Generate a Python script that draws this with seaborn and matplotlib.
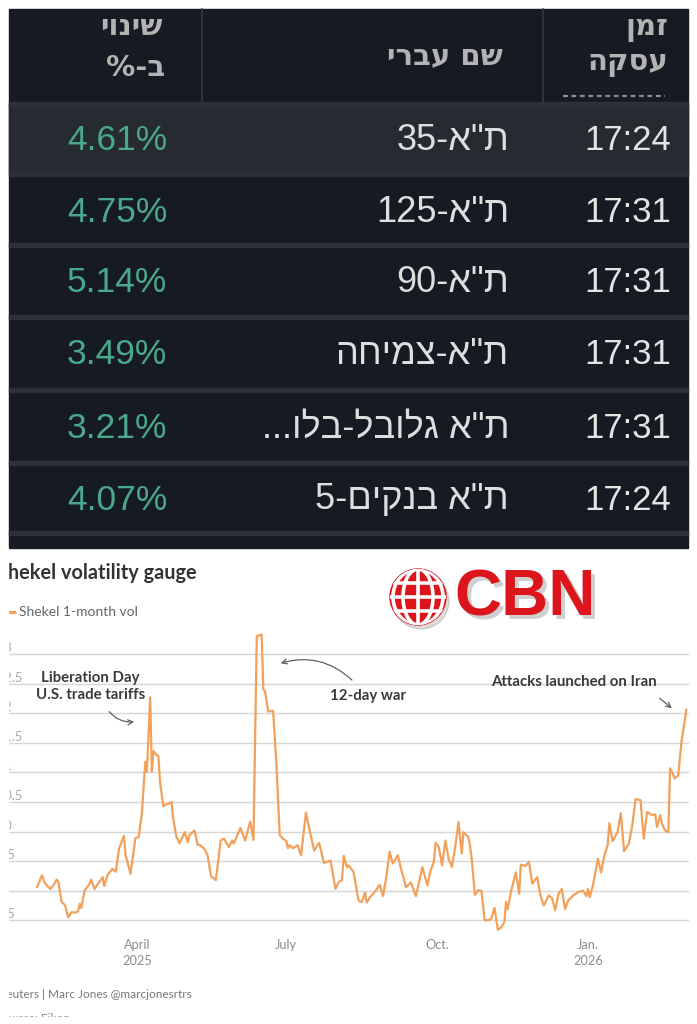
import re
import numpy as np
import pandas as pd
import matplotlib
matplotlib.use("Agg")
import matplotlib.pyplot as plt
import seaborn as sns
from matplotlib.patches import Rectangle, Circle, Ellipse
from matplotlib import font_manager as fm

# ---------------- data ----------------
table_header_time = ["זמן", "עסקה"]
table_header_name = "שם עברי"
table_header_change = ["שינוי", "ב-%"]
trade_times = ["17:24", "17:31", "17:31", "17:31", "17:31", "17:24"]
index_names = ['ת"א-35', 'ת"א-125', 'ת"א-90', 'ת"א-צמיחה', 'ת"א גלובל-בלו...', 'ת"א בנקים-5']
pct_changes = ["4.61%", "4.75%", "5.14%", "3.49%", "3.21%", "4.07%"]

chart_title = "Shekel volatility gauge"
series_name = "Shekel 1-month vol"
dates = [
    "2025-01-30", "2025-02-02", "2025-02-04", "2025-02-07", "2025-02-09", "2025-02-11", "2025-02-12",
    "2025-02-14", "2025-02-16", "2025-02-18", "2025-02-20", "2025-02-22", "2025-02-24", "2025-02-25",
    "2025-02-26", "2025-02-28", "2025-03-03", "2025-03-04", "2025-03-06", "2025-03-09", "2025-03-11",
    "2025-03-12", "2025-03-14", "2025-03-17", "2025-03-19", "2025-03-21", "2025-03-24", "2025-03-25",
    "2025-03-28", "2025-03-29", "2025-03-31", "2025-04-02", "2025-04-04", "2025-04-06", "2025-04-07",
    "2025-04-09", "2025-04-10", "2025-04-11", "2025-04-12", "2025-04-14", "2025-04-15", "2025-04-17",
    "2025-04-18", "2025-04-20", "2025-04-22", "2025-04-23", "2025-04-25", "2025-04-27", "2025-04-30",
    "2025-05-02", "2025-05-03", "2025-05-06", "2025-05-08", "2025-05-09", "2025-05-12", "2025-05-14",
    "2025-05-16", "2025-05-19", "2025-05-22", "2025-05-24", "2025-05-27", "2025-05-29", "2025-05-30",
    "2025-06-03", "2025-06-06", "2025-06-09", "2025-06-11", "2025-06-13", "2025-06-16", "2025-06-17",
    "2025-06-18", "2025-06-20", "2025-06-23", "2025-06-25", "2025-06-27", "2025-06-29", "2025-07-01",
    "2025-07-02", "2025-07-03", "2025-07-05", "2025-07-08", "2025-07-10", "2025-07-13", "2025-07-15",
    "2025-07-18", "2025-07-21", "2025-07-24", "2025-07-28", "2025-07-31", "2025-08-02", "2025-08-04",
    "2025-08-05", "2025-08-07", "2025-08-08", "2025-08-11", "2025-08-14", "2025-08-16", "2025-08-18",
    "2025-08-19", "2025-08-21", "2025-08-24", "2025-08-27", "2025-08-29", "2025-08-31", "2025-09-02",
    "2025-09-04", "2025-09-07", "2025-09-09", "2025-09-12", "2025-09-15", "2025-09-18", "2025-09-20",
    "2025-09-22", "2025-09-25", "2025-09-27", "2025-09-29", "2025-09-30", "2025-10-02", "2025-10-04",
    "2025-10-06", "2025-10-08", "2025-10-10", "2025-10-12", "2025-10-14", "2025-10-16", "2025-10-17",
    "2025-10-20", "2025-10-21", "2025-10-22", "2025-10-24", "2025-10-26", "2025-10-28", "2025-10-30",
    "2025-11-02", "2025-11-03", "2025-11-05", "2025-11-07", "2025-11-09", "2025-11-11", "2025-11-12",
    "2025-11-13", "2025-11-15", "2025-11-18", "2025-11-20", "2025-11-21", "2025-11-24", "2025-11-26",
    "2025-11-28", "2025-12-01", "2025-12-03", "2025-12-05", "2025-12-08", "2025-12-10", "2025-12-12",
    "2025-12-14", "2025-12-16", "2025-12-18", "2025-12-20", "2025-12-23", "2025-12-26", "2025-12-29",
    "2025-12-31", "2026-01-01", "2026-01-02", "2026-01-04", "2026-01-07", "2026-01-09", "2026-01-11",
    "2026-01-13", "2026-01-14", "2026-01-16", "2026-01-19", "2026-01-21", "2026-01-23", "2026-01-26",
    "2026-01-28", "2026-01-30", "2026-02-02", "2026-02-04", "2026-02-06", "2026-02-09", "2026-02-11",
    "2026-02-12", "2026-02-14", "2026-02-15", "2026-02-17", "2026-02-19", "2026-02-20", "2026-02-23",
    "2026-02-25", "2026-02-27", "2026-03-02",
]
vols = [
    9.06, 9.26, 9.12, 9.03, 9.09, 9.19, 9.15,
    8.81, 8.76, 8.55, 8.64, 8.63, 8.65, 8.78,
    8.71, 9.00, 9.12, 9.19, 9.03, 9.15, 9.23,
    9.08, 9.27, 9.37, 9.32, 9.71, 9.93, 9.60,
    9.29, 9.49, 9.89, 9.91, 10.33, 11.18, 11.01,
    12.27, 11.01, 11.36, 11.32, 11.27, 10.84, 10.43,
    10.45, 10.47, 10.50, 10.22, 9.91, 9.80, 9.99,
    9.82, 9.94, 10.02, 9.77, 9.78, 9.71, 9.60,
    9.25, 9.18, 9.85, 9.88, 9.74, 9.85, 9.80,
    10.06, 9.85, 10.17, 9.86, 13.30, 13.33, 12.40,
    12.37, 12.03, 12.04, 11.12, 9.94, 9.88, 9.84,
    9.72, 9.77, 9.72, 9.77, 9.60, 10.32, 10.05,
    9.68, 9.81, 9.47, 9.51, 9.03, 9.15, 9.18,
    9.59, 9.40, 9.43, 9.32, 8.84, 8.81, 8.97,
    8.80, 8.89, 8.98, 9.10, 8.91, 9.23, 9.66,
    9.46, 9.60, 9.37, 9.06, 9.14, 8.91, 9.15,
    9.40, 9.09, 9.34, 9.49, 9.81, 9.74, 9.43,
    9.85, 9.54, 9.40, 9.74, 10.16, 9.63, 9.99,
    9.91, 9.77, 9.56, 8.93, 9.01, 9.00, 8.50,
    8.51, 8.53, 8.71, 8.34, 8.38, 8.47, 8.81,
    8.69, 8.98, 9.31, 8.95, 9.44, 9.42, 9.49,
    9.12, 9.23, 8.92, 8.75, 8.92, 8.88, 8.67,
    8.95, 9.03, 8.69, 8.84, 8.92, 8.98, 9.00,
    8.91, 9.03, 8.89, 9.09, 9.54, 9.31, 9.60,
    9.77, 10.14, 9.84, 9.99, 10.31, 9.67, 9.80,
    10.11, 10.55, 10.53, 9.88, 10.33, 10.28, 10.29,
    10.08, 10.28, 10.14, 10.02, 9.99, 11.07, 10.90,
    10.95, 11.52, 12.06,
]
y_grid = [8.5, 9.0, 9.5, 10.0, 10.5, 11.0, 11.5, 12.0, 12.5, 13.0]
y_grid_labels = ["8.5", "9", "9.5", "10", "10.5", "11", "11.5", "12", "12.5", "13"]
x_tick_dates = ["2025-04-01", "2025-07-01", "2025-10-01", "2026-01-01"]
x_tick_labels = ["April\n2025", "July", "Oct.", "Jan.\n2026"]
annotations = ["Liberation Day\nU.S. trade tariffs", "12-day war", "Attacks launched on Iran"]
credit = "Reuters | Marc Jones @marcjonesrtrs"
source = "Source: Eikon"
logo_text = "CBN"

# ---------------- helpers ----------------
LTR = r"[0-9A-Za-z.:%]"


def visual(s):
    """Logical-order RTL line -> visual (left-to-right) order for matplotlib."""
    runs = re.findall(LTR + r"+|[^0-9A-Za-z.:%]+", s)
    out = []
    for r in reversed(runs):
        out.append(r if re.match(LTR, r) else r[::-1])
    return "".join(out)


def has_font(name):
    try:
        fm.findfont(fm.FontProperties(family=name), fallback_to_default=False)
        return True
    except Exception:
        return False


sns.set_style("white")
plt.rcParams["font.family"] = ["Lato", "DejaVu Sans"]
HEB = ["Liberation Sans", "DejaVu Sans"]
HEB_HEAD = ["DejaVu Sans"]

W, H = 697, 1024
fig = plt.figure(figsize=(W / 100, H / 100), dpi=100)
fig.patch.set_facecolor("white")

ORANGE = "#f2a05a"

# ---------------- chart ----------------
y_top_px, y_bot_px = 627.4, 932.2
ax = fig.add_axes([8 / W, 1 - y_bot_px / H, 681 / W, (y_bot_px - y_top_px) / H], zorder=1)
df = pd.DataFrame({"date": pd.to_datetime(dates), "vol": vols})
sns.lineplot(data=df, x="date", y="vol", ax=ax, color=ORANGE, linewidth=1.6)
ax.set_xlim(pd.Timestamp("2025-01-12 07:00"), pd.Timestamp("2026-03-03 14:00"))
ax.set_ylim(8.3, 13.45)
ax.set_yticks(y_grid)
ax.grid(axis="y", color="#d6d6d6", linewidth=1.0)
ax.grid(axis="x", visible=False)
ax.set_axisbelow(True)
for s in ax.spines.values():
    s.set_visible(False)
ax.tick_params(axis="y", length=0, labelleft=False)
ax.set_xticks(pd.to_datetime(x_tick_dates))
ax.set_xticklabels(x_tick_labels, fontsize=9.2, color="#8c8c8c", linespacing=1.35)
ax.tick_params(axis="x", length=0, pad=5)
ax.set_xlabel("")
ax.set_ylabel("")
ax.patch.set_alpha(0)
# y labels sit on the gridlines at the (cropped) left edge of the chart
for v, lab in zip(y_grid, y_grid_labels):
    ax.text(-0.0162, v, lab, transform=ax.get_yaxis_transform(), ha="left", va="bottom",
            fontsize=9.2, color="#a8a8a8", clip_on=True)

# ---------------- overlay in pixel coordinates ----------------
ov = fig.add_axes([0, 0, 1, 1], zorder=5)
ov.set_xlim(0, W)
ov.set_ylim(H, 0)
ov.axis("off")
ov.patch.set_alpha(0)

# table background
ov.add_patch(Rectangle((9, 9), 679, 539, color="#161a23", zorder=0))
ov.add_patch(Rectangle((9, 104), 679, 69, color="#262a31", zorder=0.5))
for yy in [104, 174, 245, 317, 390, 463, 533]:
    ov.add_patch(Rectangle((9, yy - 1.8), 679, 3.6, color="#2b3039", zorder=1))
for xx in [202, 543]:
    ov.plot([xx, xx], [9, 102], color="#30353e", lw=1.3, zorder=1)
ov.plot([563, 665], [96, 96], color="#8a8d92", lw=1.6, ls=(0, (2.2, 1.6)), zorder=1)

head_kw = dict(fontsize=21, fontweight="bold", color="#b3b3b3", family=HEB_HEAD,
               ha="right", va="center", zorder=2)
ov.text(668, 28, visual(table_header_time[0]), **head_kw)
ov.text(668, 63, visual(table_header_time[1]), **head_kw)
ov.text(503, 56, visual(table_header_name), **head_kw)
ov.text(162, 27, visual(table_header_change[0]), **head_kw)
ov.text(165, 68, visual(table_header_change[1]), **head_kw)

row_centers = [141, 212, 283, 355, 428, 500]
for yc, t, n, p in zip(row_centers, trade_times, index_names, pct_changes):
    ov.text(671, yc, t, fontsize=25, color="#e4e4e4", family=HEB, ha="right", va="center", zorder=2)
    ov.text(509, yc, visual(n), fontsize=26, color="#dedede", family=HEB, ha="right", va="center", zorder=2)
    ov.text(167, yc, p, fontsize=25.5, color="#4aa88c", family=HEB, ha="right", va="center", zorder=2)

# chart title / legend / credits
ov.text(-3, 579, chart_title, fontsize=14.3, fontweight="bold", color="#333333", va="baseline", ha="left")
ov.plot([8, 16], [612, 612], color=ORANGE, lw=2.2, solid_capstyle="butt")
ov.text(19, 612.5, series_name, fontsize=10, color="#666666", va="center", ha="left")
ov.text(-1, 995, credit, fontsize=8.5, color="#777777", va="center", ha="left")
ov.text(-1, 1012.5, source, fontsize=8.5, color="#888888", va="top", ha="left")

# annotations
ann_kw = dict(fontsize=10.8, fontweight="bold", color="#3a3a3a", ha="center", va="center", linespacing=1.25)
ov.text(90.5, 686.5, annotations[0], **ann_kw)
ov.text(368, 696, annotations[1], **ann_kw)
ov.text(574, 682, annotations[2], **ann_kw)
arr = dict(arrowstyle="->", color="#606060", lw=0.9, mutation_scale=9)
ov.annotate("", xy=(137, 721.5), xytext=(107.5, 709.5),
            arrowprops=dict(connectionstyle="arc3,rad=0.3", **arr))
ov.annotate("", xy=(278, 664), xytext=(354, 682),
            arrowprops=dict(connectionstyle="arc3,rad=0.3", **arr))
ov.annotate("", xy=(674, 710), xytext=(657.5, 696.5),
            arrowprops=dict(connectionstyle="arc3,rad=0", **arr))

# logo
RED = "#dc141c"
ov.add_patch(Circle((421, 601), 28, color="#00000022", zorder=6))
globe = Circle((418, 597), 28, color=RED, zorder=7)
ov.add_patch(globe)
gl_kw = dict(color="white", lw=2.6, zorder=8)
for dy in [-14, 0, 14]:
    half = np.sqrt(28 ** 2 - dy ** 2)
    ln, = ov.plot([418 - half, 418 + half], [597 + dy, 597 + dy], **gl_kw)
    ln.set_clip_path(globe)
ln, = ov.plot([418, 418], [569, 625], **gl_kw)
ln.set_clip_path(globe)
for wdt in [30, 50]:
    e = Ellipse((418, 597), wdt, 56, fill=False, ec="white", lw=2.6, zorder=8)
    ov.add_patch(e)
    e.set_clip_path(globe)

logo_kw = dict(fontweight="bold", ha="center", va="center")
if has_font("Liberation Sans Narrow"):
    logo_kw.update(family=["Liberation Sans Narrow"], fontsize=55)
else:
    logo_kw.update(family=["Liberation Sans", "DejaVu Sans"], fontsize=47)
ov.text(529, 602, logo_text, color="#00000030", zorder=6, **logo_kw)
ov.text(525, 598, logo_text, color=RED, zorder=7, **logo_kw)

# crop masks (chart image cut at left and bottom)
ov.add_patch(Rectangle((0, 548), 7.5, 476, color="white", zorder=20))
ov.add_patch(Rectangle((0, 1017), W, 7, color="white", zorder=20))

fig.savefig("out.png", dpi=100, facecolor="white")
